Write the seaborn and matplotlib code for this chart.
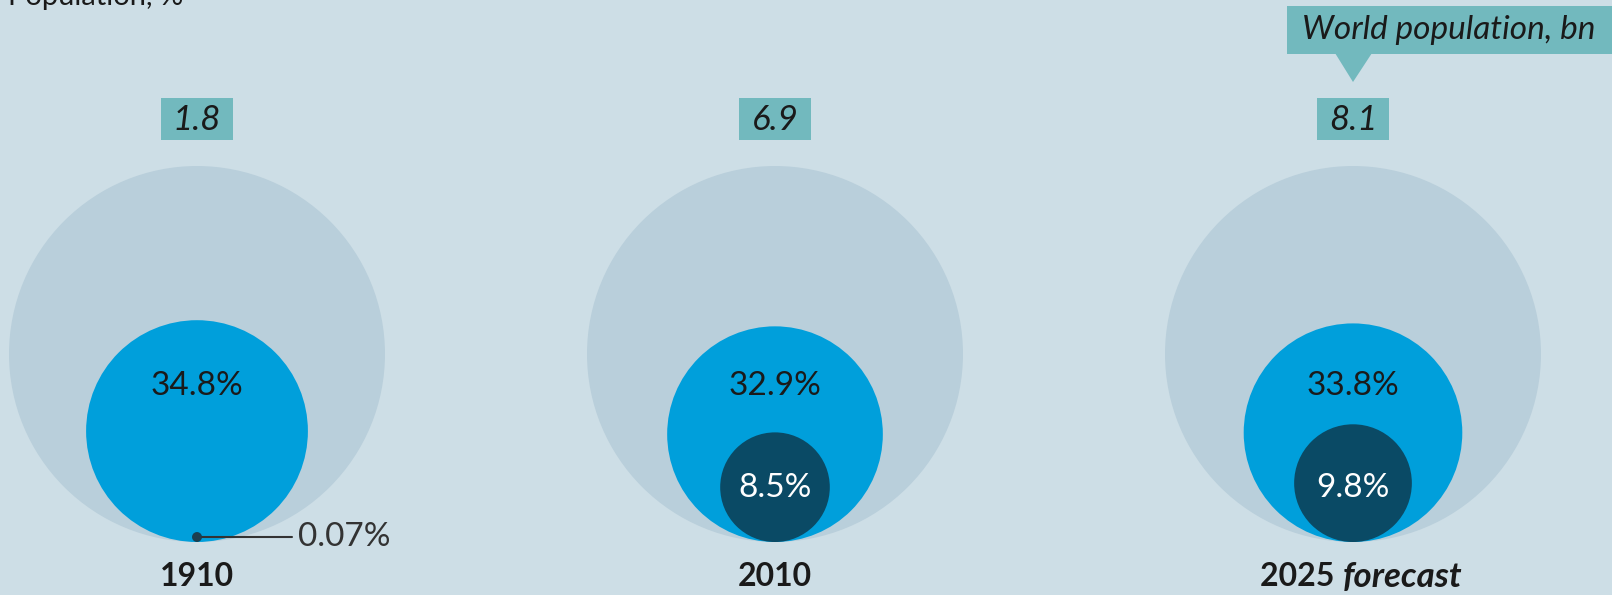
import matplotlib
matplotlib.use("Agg")
import matplotlib.pyplot as plt
from matplotlib.patches import Circle, Rectangle, Polygon
import seaborn as sns
import numpy as np

# ---- data ----
years = ["1910", "2010", "2025"]
year_suffix = ["", "", "forecast"]
world_pop_bn = [1.8, 6.9, 8.1]
blue_share = [34.8, 32.9, 33.8]
dark_share = [0.07, 8.5, 9.8]
blue_labels = ["34.8%", "32.9%", "33.8%"]
dark_labels = ["0.07%", "8.5%", "9.8%"]

sns.set_theme(style="white")
plt.rcParams["font.family"] = ["Lato", "DejaVu Sans"]

BG = "#cddee6"
BIG = "#b9cfdb"
BLUE = "#009fdb"
DARK = "#0a4a65"
TEAL = "#72b9be"
TXT = "#1a1a1a"

fig = plt.figure(figsize=(16.12, 5.95), dpi=100, facecolor=BG)
ax = fig.add_axes([0, 0, 1, 1])
ax.set_facecolor(BG)
ax.set_xlim(0, 1612)
ax.set_ylim(595, 0)
ax.axis("off")

R = 188.0
bottom = 542.0
centers = [197 + 578 * i for i in range(len(years))]
fs = 24

for i, cx in enumerate(centers):
    # whole world
    ax.add_patch(Circle((cx, bottom - R), R, color=BIG, lw=0))
    rb = R * np.sqrt(blue_share[i] / 100)
    ax.add_patch(Circle((cx, bottom - rb), rb, color=BLUE, lw=0))
    rd = R * np.sqrt(dark_share[i] / 100)
    ax.add_patch(Circle((cx, bottom - rd), rd, color=DARK, lw=0))
    ax.text(cx, 386, blue_labels[i], ha="center", va="center", fontsize=fs, color=TXT)
    if rd > 20:
        ax.text(cx, 488, dark_labels[i], ha="center", va="center", fontsize=fs, color="white")
    else:
        ax.plot([cx, 292], [bottom - rd, bottom - rd], color="#333333", lw=1.5)
        ax.add_patch(Circle((cx, bottom - rd), 4.5, color="#1d3f4f", lw=0, zorder=5))
        ax.text(298, bottom - rd, dark_labels[i], ha="left", va="center", fontsize=fs, color="#333333")
    # population box
    ax.add_patch(Rectangle((cx - 36, 98), 72, 42, color=TEAL, lw=0))
    ax.text(cx, 120, f"{world_pop_bn[i]:.1f}", ha="center", va="center", fontsize=25,
            style="italic", color=TXT)

# year labels
fig.canvas.draw()
rend = fig.canvas.get_renderer()
for i, cx in enumerate(centers):
    if year_suffix[i]:
        t1 = ax.text(0, 0, years[i] + " ", fontsize=23, weight="bold", color=TXT)
        t2 = ax.text(0, 0, year_suffix[i], fontsize=25, weight="bold", style="italic", color=TXT)
        w1 = t1.get_window_extent(rend).width
        w2 = t2.get_window_extent(rend).width
        start = cx + 8 - (w1 + w2) / 2
        t1.set_position((start, 577)); t1.set_va("center")
        t2.set_position((start + w1, 577)); t2.set_va("center")
    else:
        ax.text(cx, 577, years[i], ha="center", va="center", fontsize=23, weight="bold", color=TXT)

# legend callout
ax.add_patch(Rectangle((1287, 6), 330, 48, color=TEAL, lw=0))
ax.add_patch(Polygon([(1335, 53), (1372, 53), (1353, 82)], closed=True, color=TEAL, lw=0))
ax.text(1302, 30, "World population, bn", ha="left", va="center", fontsize=24,
        style="italic", color=TXT)

# cut-off title (partly outside the canvas, as in the reference)
ax.text(8, 5, "Population, %", ha="left", va="baseline", fontsize=21, color=TXT)

fig.savefig("out.png", dpi=100, facecolor=BG)
